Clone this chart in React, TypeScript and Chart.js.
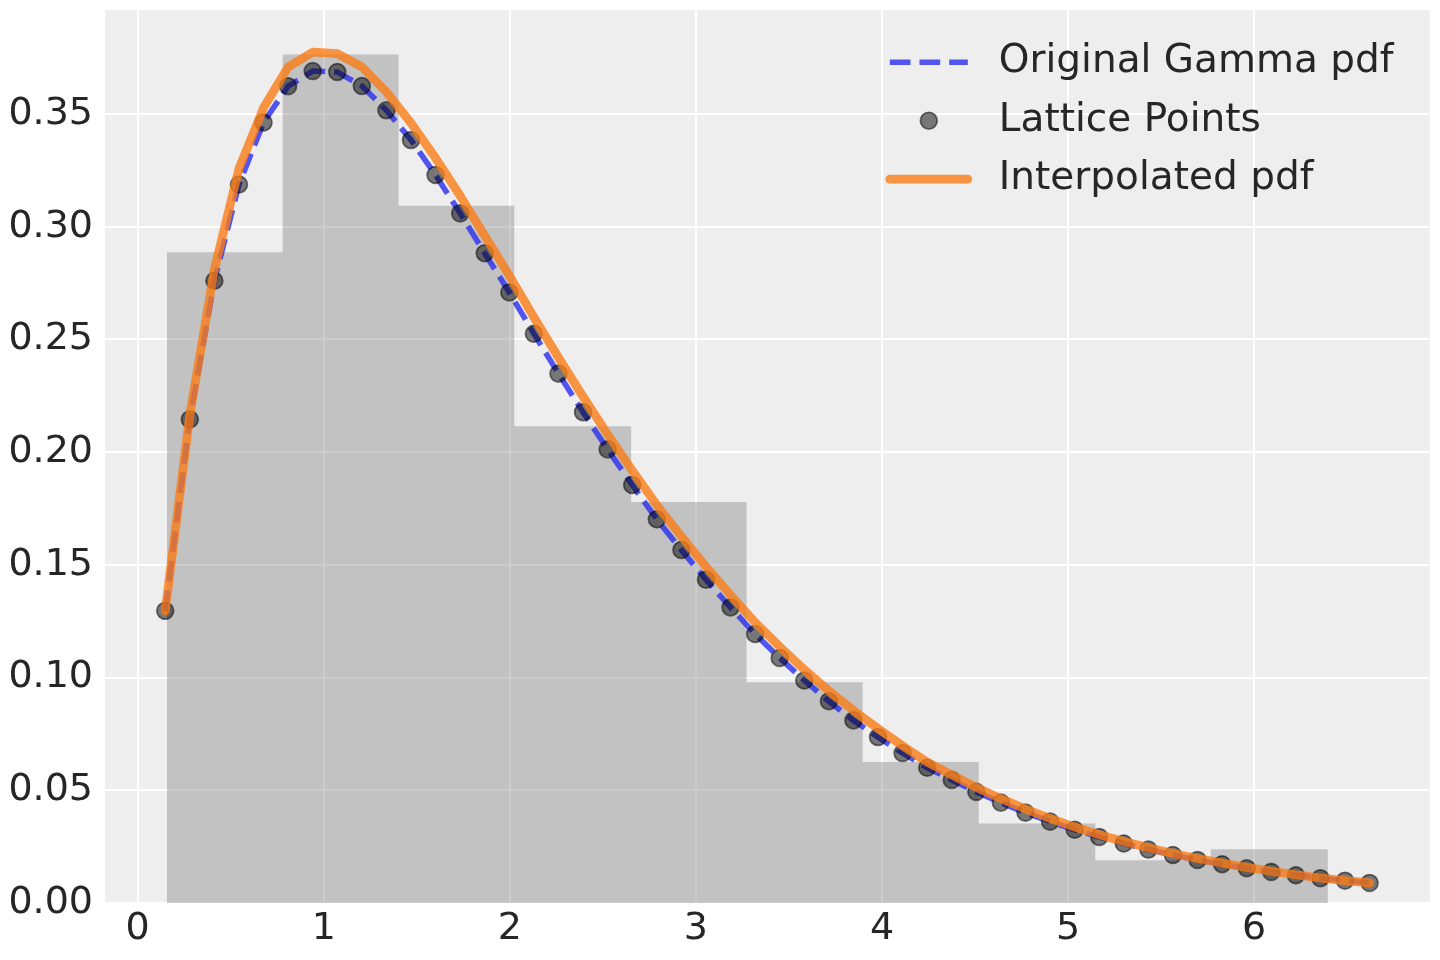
import React, { useEffect, useRef } from "react";
import { Chart, registerables } from "chart.js";

Chart.register(...registerables);

// lattice grid and the pdf values
const latticeX = [
  0.1482, 0.2803, 0.4124, 0.5444, 0.6765, 0.8086, 0.9407, 1.0728, 1.2048, 1.3369,
  1.469, 1.6011, 1.7332, 1.8652, 1.9973, 2.1294, 2.2615, 2.3936, 2.5256, 2.6577,
  2.7898, 2.9219, 3.054, 3.186, 3.3181, 3.4502, 3.5823, 3.7144, 3.8464, 3.9785,
  4.1106, 4.2427, 4.3748, 4.5068, 4.6389, 4.771, 4.9031, 5.0352, 5.1672, 5.2993,
  5.4314, 5.5635, 5.6956, 5.8276, 5.9597, 6.0918, 6.2239, 6.356, 6.488, 6.6201,
];
const gammaPdf = [
  0.1296, 0.2145, 0.276, 0.3187, 0.3462, 0.3623, 0.369, 0.3686, 0.3624, 0.3516,
  0.3384, 0.3229, 0.3059, 0.2882, 0.2708, 0.2525, 0.2348, 0.2177, 0.2012, 0.1854,
  0.1702, 0.1566, 0.1434, 0.1311, 0.1193, 0.1087, 0.0987, 0.0895, 0.081, 0.0736,
  0.0665, 0.06, 0.0546, 0.0493, 0.0445, 0.0401, 0.0361, 0.0325, 0.0293, 0.0264,
  0.0237, 0.0213, 0.0191, 0.0172, 0.0154, 0.0138, 0.0123, 0.011, 0.0099, 0.0089,
];
const interpPdf = [
  0.1296, 0.2165, 0.281, 0.3257, 0.3527, 0.3708, 0.3774, 0.3767, 0.3709, 0.3597,
  0.346, 0.3304, 0.3137, 0.2959, 0.2783, 0.2598, 0.2419, 0.2246, 0.2079, 0.1919,
  0.1765, 0.1626, 0.1492, 0.1366, 0.1245, 0.1137, 0.1035, 0.0941, 0.0854, 0.0774,
  0.0697, 0.0625, 0.0568, 0.0513, 0.0463, 0.0417, 0.0375, 0.0337, 0.0303, 0.0273,
  0.0245, 0.022, 0.0197, 0.0177, 0.0158, 0.0141, 0.0125, 0.0111, 0.0099, 0.0089,
];

// histogram of the samples
const binEdges = [0.157, 0.7795, 1.402, 2.024, 2.652, 3.272, 3.896, 4.52, 5.146, 5.767, 6.396];
const binHeights = [0.2886, 0.3764, 0.3093, 0.2115, 0.1779, 0.0979, 0.0625, 0.0353, 0.019, 0.0238];

const xTicks = [0, 1, 2, 3, 4, 5, 6];
const yTicks = [0, 0.05, 0.1, 0.15, 0.2, 0.25, 0.3, 0.35];
const legendLabels = ["Original Gamma pdf", "Lattice Points", "Interpolated pdf"];

const X_MIN = -0.1754;
const X_MAX = 6.9437;
const Y_MAX = 0.396;

const BLUE = "rgba(42, 46, 236, 0.8)";
const ORANGE = "rgba(250, 124, 23, 0.8)";
const DOT = "rgba(0, 0, 0, 0.5)";
const TEXT = "#262626";
const FONT = "DejaVu Sans";

const pts = (xs: number[], ys: number[]) => xs.map((x, i) => ({ x, y: ys[i] }));

// outline of the histogram, from edges and heights
const histOutline = () => {
  const out: { x: number; y: number }[] = [];
  binHeights.forEach((h, i) => {
    out.push({ x: binEdges[i], y: h });
    out.push({ x: binEdges[i + 1], y: h });
  });
  return out;
};

const panel = {
  id: "panel",
  beforeDraw(chart: any) {
    const { ctx, chartArea: a } = chart;
    ctx.save();
    ctx.fillStyle = "#eeeeee";
    ctx.fillRect(a.left, a.top, a.right - a.left, a.bottom - a.top);
    ctx.restore();
  },
};

const legendBox = {
  id: "legendBox",
  afterDraw(chart: any) {
    const { ctx, chartArea: a } = chart;
    const x0 = a.right - 540;
    const x1 = a.right - 462;
    const tx = a.right - 431;
    const rows = [a.top + 52, a.top + 110.5, a.top + 169];
    ctx.save();

    ctx.strokeStyle = BLUE;
    ctx.lineWidth = 5.6;
    ctx.lineCap = "butt";
    ctx.setLineDash([20.7, 9]);
    ctx.beginPath();
    ctx.moveTo(x0, rows[0]);
    ctx.lineTo(x1, rows[0]);
    ctx.stroke();
    ctx.setLineDash([]);

    ctx.fillStyle = DOT;
    ctx.strokeStyle = DOT;
    ctx.lineWidth = 1.8;
    ctx.beginPath();
    ctx.arc((x0 + x1) / 2, rows[1], 8.4, 0, Math.PI * 2);
    ctx.fill();
    ctx.stroke();

    ctx.strokeStyle = ORANGE;
    ctx.lineWidth = 8.7;
    ctx.lineCap = "round";
    ctx.beginPath();
    ctx.moveTo(x0, rows[2]);
    ctx.lineTo(x1, rows[2]);
    ctx.stroke();

    ctx.fillStyle = TEXT;
    ctx.font = `39px "${FONT}"`;
    ctx.textBaseline = "middle";
    ctx.textAlign = "left";
    legendLabels.forEach((t, i) => ctx.fillText(t, tx, rows[i]));
    ctx.restore();
  },
};

const App: React.FC = () => {
  const canvas = useRef<HTMLCanvasElement>(null);

  useEffect(() => {
    const tickFont = { family: FONT, size: 38 };
    const chart = new Chart(canvas.current!.getContext("2d")!, {
      type: "line",
      data: {
        datasets: [
          {
            label: "hist",
            data: histOutline(),
            borderColor: "transparent",
            borderWidth: 0,
            backgroundColor: "rgba(128, 128, 128, 0.4)",
            fill: "origin",
            pointRadius: 0,
            tension: 0,
            order: 3,
          },
          {
            label: legendLabels[0],
            data: pts(latticeX, gammaPdf),
            borderColor: BLUE,
            borderWidth: 5.6,
            borderDash: [20.7, 9],
            borderCapStyle: "butt",
            pointRadius: 0,
            fill: false,
            tension: 0,
            order: 2,
          },
          {
            label: legendLabels[1],
            data: pts(latticeX, gammaPdf),
            showLine: false,
            pointRadius: 8.4,
            pointBorderWidth: 1.8,
            pointBackgroundColor: DOT,
            pointBorderColor: DOT,
            order: 1,
          },
          {
            label: legendLabels[2],
            data: pts(latticeX, interpPdf),
            borderColor: ORANGE,
            borderWidth: 8.7,
            borderCapStyle: "round",
            borderJoinStyle: "round",
            pointRadius: 0,
            fill: false,
            tension: 0,
            order: 0,
          },
        ],
      },
      options: {
        responsive: true,
        maintainAspectRatio: false,
        animation: false,
        layout: { padding: { top: 8, right: 8, left: 0, bottom: 0 } },
        plugins: {
          legend: { display: false },
          tooltip: { enabled: false },
        },
        scales: {
          x: {
            type: "linear",
            min: X_MIN,
            max: X_MAX,
            border: { display: false },
            grid: { color: "#ffffff", lineWidth: 2, drawTicks: false },
            ticks: {
              font: tickFont,
              color: TEXT,
              padding: 3,
              maxRotation: 0,
              callback: (v: any) => String(v),
            },
            afterBuildTicks: (s: any) => {
              s.ticks = xTicks.map(value => ({ value }));
            },
            afterFit: (s: any) => {
              s.height = 57;
              s.paddingLeft = 0;
              s.paddingRight = 0;
            },
          },
          y: {
            type: "linear",
            min: 0,
            max: Y_MAX,
            border: { display: false },
            grid: { color: "#ffffff", lineWidth: 2, drawTicks: false },
            ticks: {
              font: tickFont,
              color: TEXT,
              padding: 12,
              callback: (v: any) => Number(v).toFixed(2),
            },
            afterBuildTicks: (s: any) => {
              s.ticks = yTicks.map(value => ({ value }));
            },
            afterFit: (s: any) => {
              s.width = 105;
              s.paddingTop = 0;
              s.paddingBottom = 0;
            },
          },
        },
      },
      plugins: [panel, legendBox],
    } as any);

    return () => {
      chart.destroy();
    };
  }, []);

  return (
    <div style={{ position: "absolute", left: 0, top: 0, width: 1440, height: 960, background: "#ffffff" }}>
      <canvas ref={canvas}></canvas>
    </div>
  );
};

export default App;
